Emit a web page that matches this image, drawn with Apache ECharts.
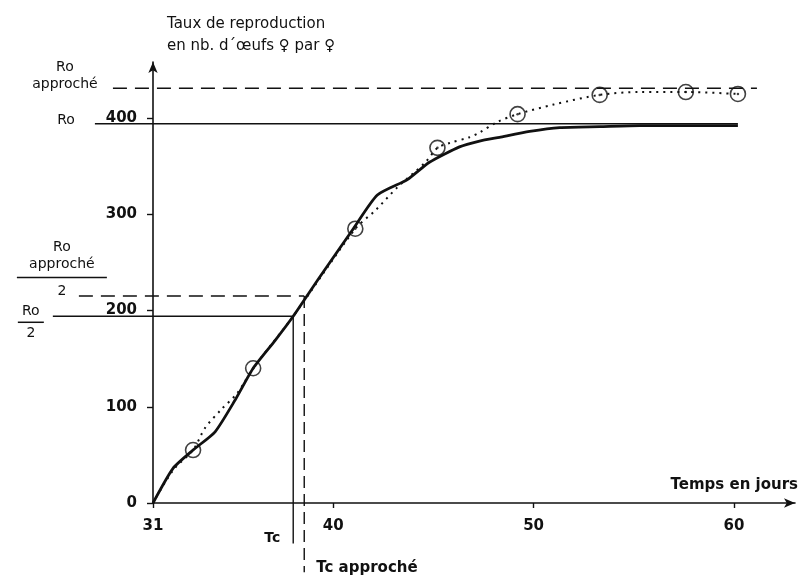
<!DOCTYPE html>
<html><head><meta charset="utf-8">
<script src="https://cdn.jsdelivr.net/npm/echarts@6/dist/echarts.min.js"></script>
<style>html,body{margin:0;padding:0;background:#fff}#c{width:803px;height:577px}</style>
</head><body><div id="c"></div>
<script>
// ---- data ----
const xTicks = [31, 40, 50, 60];
const yTicks = [0, 100, 200, 300, 400];
// observed points (circles)
const observedX = [33.0, 36.0, 41.1, 45.2, 49.2, 53.3, 57.6, 60.2];
const observedY = [55, 140, 285, 369, 404, 424, 427, 425];
// solid curve
const modelX = [31, 32.0, 33.0, 34.1, 35.1, 36.0, 37.1, 38.0, 39.3, 41.0, 42.2, 43.7, 44.8, 46.3, 47.3, 48.3, 49.8, 51.3, 53.3, 55.3, 60.2];
const modelY = [0, 36, 55, 74, 107, 140, 169, 194, 234, 285, 320, 336, 354, 370, 376, 380, 386, 390, 391, 392, 392];
// dotted curve
const fitX = [31, 32.0, 33.0, 33.6, 34.4, 35.2, 36.0, 38.0, 41.1, 42.1, 43.2, 44.6, 45.2, 45.8, 46.8, 47.3, 48.2, 49.2, 51.0, 53.3, 55.3, 57.6, 60.2];
const fitY = [0, 34, 55, 78, 97, 114, 140, 194, 285, 304, 328, 354, 369, 374, 380, 385, 396, 404, 414, 424, 427, 427, 425];
// reference values
const Ro = 394, RoApp = 431, RoHalf = 194, RoAppHalf = 215;
const Tc = 38.0, TcApp = 38.55;
// reference line extents
const RoLineX = [28.1, 60.2];
const RoAppLineX = [29.0, 61.15];
const RoHalfLineX = [26.0, Tc];
const RoAppHalfLineX = [27.3, TcApp];
const TcLineY = [RoHalf, -42];
const TcAppLineY = [RoAppHalf, -72];

const zip = (xs, ys) => xs.map((x, i) => [x, ys[i]]);
const INK = '#111';
const FONT = 'DejaVu Sans';
const txt = { color: INK, fontFamily: FONT, fontSize: 14 };

// layout
const W = 803, GL = 153, GR = 8, GT = 62, GB = 74, GL2 = 10;
const X_MIN = 31, X_MAX = 63.05, Y_MIN = 0, Y_MAX = 458.2;
const pxPerDay = (W - GL - GR) / (X_MAX - X_MIN);
const X_MIN2 = X_MIN - (GL - GL2) / pxPerDay; // wider hidden grid with identical scale

function refLine(p0, p1, dashed, lab0, lab1, gridIdx) {
  const d0 = lab0 ? { value: p0, label: Object.assign({ show: true }, txt, lab0) } : p0;
  const d1 = lab1 ? { value: p1, label: Object.assign({ show: true }, txt, lab1) } : p1;
  return {
    type: 'line', data: [d0, d1], symbol: 'circle', symbolSize: 0, showSymbol: true,
    xAxisIndex: gridIdx, yAxisIndex: gridIdx,
    clip: false, silent: true, z: 3,
    lineStyle: { color: INK, width: 1.4, type: dashed ? dashed : 'solid' }
  };
}

const chart = echarts.init(document.getElementById('c'), null, { renderer: 'canvas' });
const option = {
  animation: false,
  backgroundColor: '#fff',
  grid: [
    { left: GL, right: GR, top: GT, bottom: GB },
    { left: GL2, right: GR, top: GT, bottom: GB }
  ],
  xAxis: [{
    type: 'value', min: X_MIN, max: X_MAX, gridIndex: 0,
    axisLine: { show: true, symbol: ['none', 'arrow'], symbolSize: [7, 11], lineStyle: { color: INK, width: 1.6 } },
    axisTick: { show: true, customValues: xTicks, length: 5, lineStyle: { color: INK, width: 1.4 } },
    axisLabel: { customValues: xTicks, color: INK, fontFamily: FONT, fontWeight: 'bold', fontSize: 15, margin: 16 },
    splitLine: { show: false },
    name: 'Temps en jours', nameLocation: 'end', nameGap: 3,
    nameTextStyle: { color: INK, fontFamily: FONT, fontWeight: 'bold', fontSize: 15, align: 'right', verticalAlign: 'bottom', padding: [0, 0, 10, 0] }
  }, {
    type: 'value', min: X_MIN2, max: X_MAX, gridIndex: 1, show: false
  }],
  yAxis: [{
    type: 'value', min: Y_MIN, max: Y_MAX, interval: 100, gridIndex: 0,
    axisLine: { show: true, symbol: ['none', 'arrow'], symbolSize: [7, 11], lineStyle: { color: INK, width: 1.6 } },
    axisTick: { show: true, customValues: yTicks, length: 6, lineStyle: { color: INK, width: 1.4 } },
    axisLabel: { customValues: yTicks, color: INK, fontFamily: FONT, fontWeight: 'bold', fontSize: 15, margin: 16 },
    splitLine: { show: false },
    name: 'Taux de reproduction\nen nb. d´œufs ♀ par ♀', nameLocation: 'end', nameGap: 5,
    nameTextStyle: { color: INK, fontFamily: FONT, fontSize: 15, lineHeight: 22, align: 'left', verticalAlign: 'bottom', padding: [0, 0, 0, 14] }
  }, {
    type: 'value', min: Y_MIN, max: Y_MAX, gridIndex: 1, show: false
  }],
  series: [
    { type: 'line', data: zip(modelX, modelY), showSymbol: false, smooth: 0.2, z: 4, silent: true,
      lineStyle: { color: INK, width: 2.8 } },
    { type: 'line', data: zip(fitX, fitY), showSymbol: false, smooth: 0.3, z: 4, silent: true,
      lineStyle: { color: INK, width: 2, type: [2, 5] } },
    { type: 'scatter', data: zip(observedX, observedY), symbol: 'circle', symbolSize: 15, z: 5, silent: true,
      itemStyle: { color: 'rgba(0,0,0,0)', borderColor: INK, borderWidth: 1.6 } },
    { type: 'scatter', data: zip(observedX, observedY), symbol: 'circle', symbolSize: 2.5, z: 5, silent: true,
      itemStyle: { color: INK } },
    refLine([RoLineX[0], Ro], [RoLineX[1], Ro], null,
      { formatter: 'Ro', position: 'left', distance: 20, offset: [0, -3] }, null, 1),
    refLine([RoAppLineX[0], RoApp], [RoAppLineX[1], RoApp], [14, 8],
      { formatter: 'Ro\napproché', position: 'left', distance: 48, align: 'center', lineHeight: 17, offset: [0, -12] }, null, 1),
    refLine([RoHalfLineX[0], RoHalf], [RoHalfLineX[1], RoHalf], null,
      { formatter: 'Ro\n{bar| }\n2', position: 'left', distance: 22, align: 'center', lineHeight: 16, offset: [0, 6],
        rich: { bar: { width: 26, height: 1.5, lineHeight: 6, backgroundColor: INK } } }, null, 1),
    refLine([RoAppHalfLineX[0], RoAppHalf], [RoAppHalfLineX[1], RoAppHalf], [14, 8],
      { formatter: 'Ro\napproché\n{bar| }\n2', position: 'left', distance: 17, align: 'center', lineHeight: 17, offset: [0, -27],
        rich: { bar: { width: 90, height: 1.5, lineHeight: 10, backgroundColor: INK } } }, null, 1),
    refLine([Tc, TcLineY[0]], [Tc, TcLineY[1]], null, null,
      { formatter: 'Tc', position: 'left', distance: 13, fontWeight: 'bold', offset: [0, -5] }, 0),
    refLine([TcApp, TcAppLineY[0]], [TcApp, TcAppLineY[1]], [12, 6], null,
      { formatter: 'Tc approché', position: 'right', distance: 12, fontWeight: 'bold', fontSize: 15, offset: [0, -4] }, 0)
  ]
};
chart.setOption(option);
</script></body></html>
